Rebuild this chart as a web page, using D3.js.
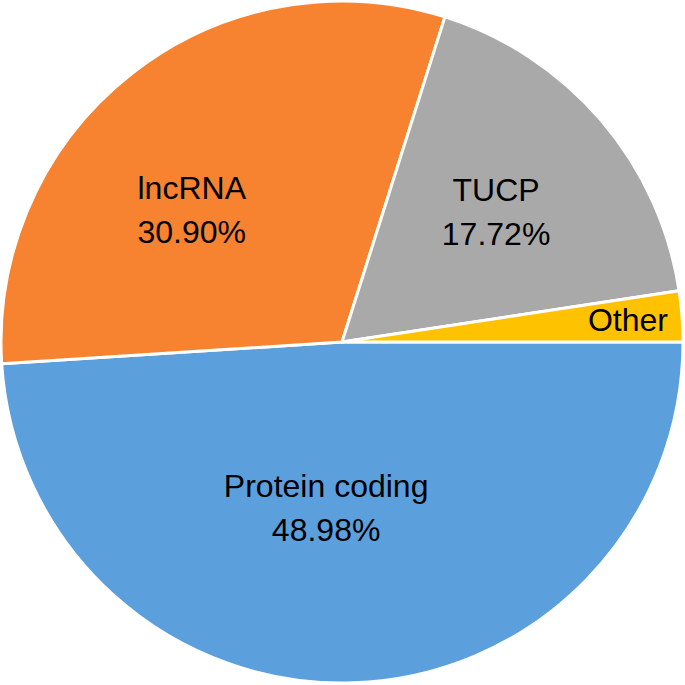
<!DOCTYPE html>
<html>
<head>
<meta charset="utf-8">
<script src="https://cdn.jsdelivr.net/npm/d3@7"></script>
<style>
  html, body { margin: 0; padding: 0; background: #fff; }
</style>
</head>
<body>
<script>
// chart data
const categories = ["Protein coding", "lncRNA", "TUCP", "Other"];
const percents = [48.98, 30.90, 17.72, 2.40];
const showPercent = [true, true, true, false];

const width = 685;
const height = 685;
const radius = 341;

const color = d3.scaleOrdinal()
  .domain(categories)
  .range(["#5b9fdd", "#f7822f", "#a9a9a9", "#ffc200"]);

// label placement (radius fraction, angle nudge in degrees)
const labelPos = {
  "Protein coding": { k: 0.489, da: 7.3 },
  "lncRNA": { k: 0.587, da: -10.6 },
  "TUCP": { k: 0.591, da: 0.4 },
  "Other": { k: 0.841, da: -0.1 }
};

const data = categories.map((c, i) => ({ label: c, value: percents[i], showPct: showPercent[i] }));

const svg = d3.select("body").append("svg")
  .attr("width", width)
  .attr("height", height)
  .style("font-family", "'Liberation Sans', Arial, sans-serif");

const g = svg.append("g")
  .attr("transform", `translate(342, 342)`);

const pie = d3.pie()
  .sort(null)
  .value(d => d.value)
  .startAngle(Math.PI / 2)
  .endAngle(Math.PI / 2 + 2 * Math.PI);

const arc = d3.arc()
  .innerRadius(0)
  .outerRadius(radius);

const arcs = pie(data);

g.selectAll("path")
  .data(arcs)
  .enter()
  .append("path")
  .attr("d", arc)
  .attr("fill", d => color(d.data.label))
  .attr("stroke", "#fff")
  .attr("stroke-width", 3)
  .attr("stroke-linejoin", "round");

// labels
g.selectAll("text")
  .data(arcs)
  .enter()
  .append("text")
  .attr("text-anchor", "middle")
  .style("font-size", "32px")
  .attr("fill", "#000")
  .each(function (d) {
    const p = labelPos[d.data.label];
    const a = (d.startAngle + d.endAngle) / 2 + p.da * Math.PI / 180;
    const x = Math.sin(a) * radius * p.k;
    const y = -Math.cos(a) * radius * p.k;
    const t = d3.select(this);
    if (d.data.showPct) {
      t.append("tspan").attr("x", x).attr("y", y - 11).text(d.data.label);
      t.append("tspan").attr("x", x).attr("y", y + 33).text(d.data.value.toFixed(2) + "%");
    } else {
      t.append("tspan").attr("x", x).attr("y", y + 11).text(d.data.label);
    }
  });
</script>
</body>
</html>
